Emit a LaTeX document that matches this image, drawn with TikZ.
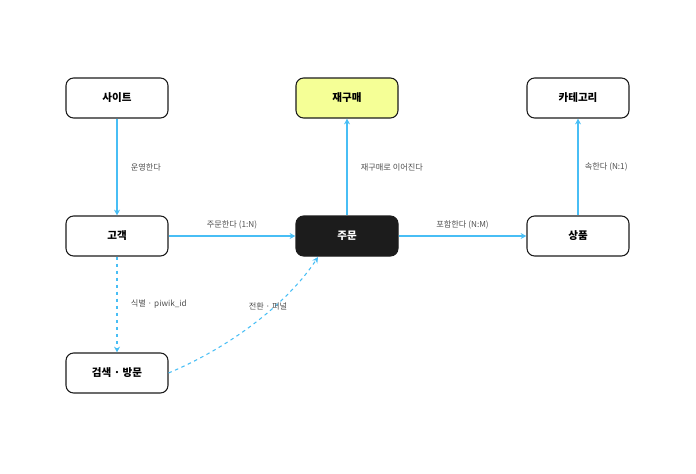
\documentclass[tikz,border=0pt]{standalone}
\usepackage{fontspec}
\setmainfont{Noto Sans CJK KR}
\usetikzlibrary{arrows.meta}
\definecolor{pfeil}{RGB}{72,190,245}
\definecolor{box}{RGB}{28,28,28}
\definecolor{gelb}{RGB}{245,255,150}
\definecolor{schrift}{RGB}{80,80,80}

\begin{document}
\begin{tikzpicture}[x=0.03cm, y=-0.03cm,
    ent/.style={draw=box, line width=0.9pt, rounded corners=1.2ex, minimum width=3.06cm, minimum height=1.2cm, font=\small\bfseries, fill=white},
    lbl/.style={font=\scriptsize, text=schrift},
    rel/.style={pfeil, line width=0.9pt, -{Stealth[length=5pt, width=5pt]}}]

    \useasboundingbox (0,0) rectangle (696,474);

    \node[ent] (site) at (117,98) {사이트};
    \node[ent, fill=gelb] (rebuy) at (347,98) {재구매};
    \node[ent] (cat) at (578,98) {카테고리};
    \node[ent] (cust) at (117,236) {고객};
    \node[ent, fill=box, text=white] (order) at (347,236) {주문};
    \node[ent] (prod) at (578,236) {상품};
    \node[ent] (visit) at (117,373) {검색 · 방문};
    \coordinate (funnel) at (318,257);

    \draw[rel] (site) -- (cust) node[lbl, pos=0.5, right=8pt] {운영한다};
    \draw[rel] (order) -- (rebuy) node[lbl, pos=0.5, right=8pt] {재구매로 이어진다};
    \draw[rel] (prod) -- (cat) node[lbl, pos=0.5, right=2pt] {속한다 (N:1)};
    \draw[rel] (cust) -- (order) node[lbl, pos=0.5, above=2pt] {주문한다 (1:N)};
    \draw[rel] (order) -- (prod) node[lbl, pos=0.5, above=2pt] {포함한다 (N:M)};
    \draw[rel, dashed] (cust) -- (visit) node[lbl, pos=0.5, right=8pt] {식별 · piwik\_id};
    \draw[rel, dashed] (visit.east) .. controls (235,345) and (290,300) .. (funnel);
    \node[lbl] (funnellbl) at (268,306) {전환 · 퍼널};

\end{tikzpicture}
\end{document}
